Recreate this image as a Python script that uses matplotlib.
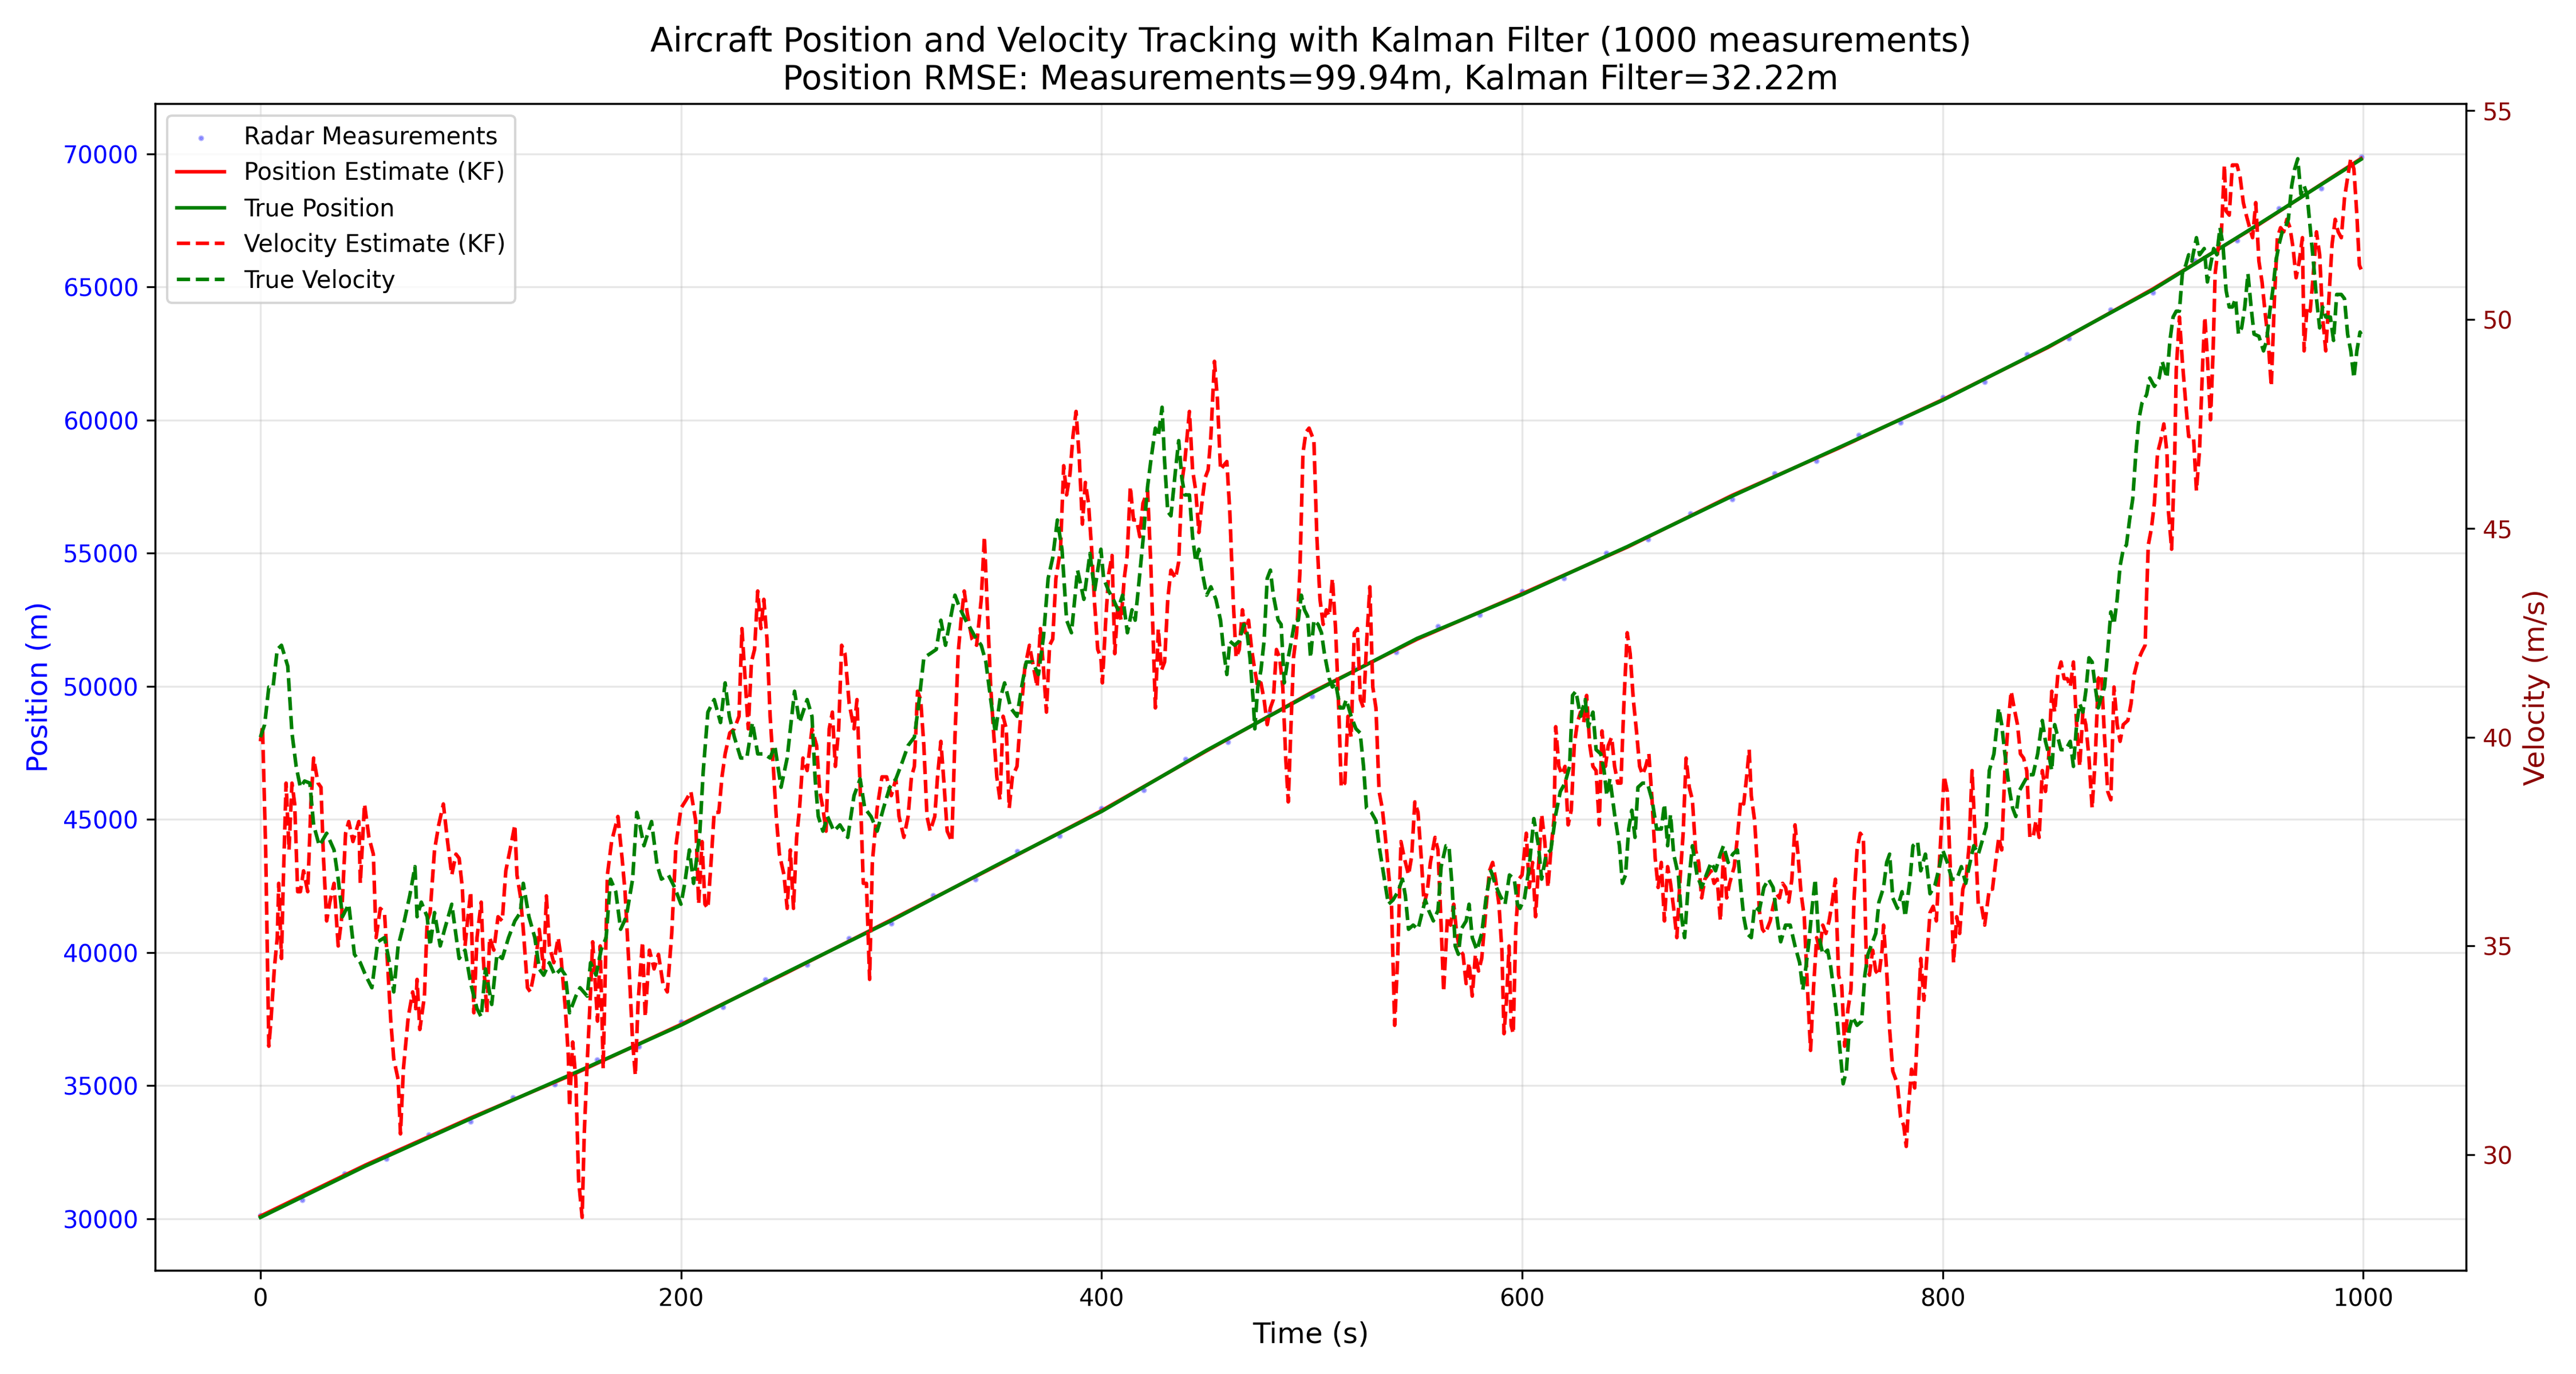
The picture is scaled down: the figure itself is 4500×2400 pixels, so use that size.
import matplotlib
matplotlib.use("Agg")
import matplotlib.pyplot as plt
import numpy as np

# ---------------- data ----------------
pos_time = [0, 50, 100, 150, 200, 250, 300, 350, 400, 450, 500, 550, 600, 650,
            700, 750, 800, 850, 900, 950, 999]
true_position = [30050, 31980, 33760, 35500, 37270, 39250, 41200, 43280, 45300,
                 47600, 49750, 51800, 53450, 55250, 57150, 58950, 60750, 62750,
                 64900, 67350, 69800]
kf_position = [30100, 32020, 33790, 35470, 37300, 39230, 41230, 43260, 45330,
               47580, 49780, 51770, 53480, 55230, 57180, 58930, 60770, 62730,
               64930, 67330, 69830]

meas_time = list(range(0, 1001, 20))
meas_time[-1] = 999
measurements = [30120, 30700, 31690, 32250, 33150, 33650, 34560, 35050, 35980, 36480,
                37390, 37950, 38980, 39540, 40530, 41090, 42150, 42760, 43800, 44380,
                45410, 46100, 47260, 47920, 49000, 49640, 50690, 51280, 52250, 52680,
                53570, 54060, 55000, 55520, 56500, 57040, 57990, 58480, 59430, 59920,
                60870, 61440, 62470, 63070, 64160, 64790, 66000, 66750, 67960, 68710,
                69900]

true_velocity_pts = [
    (0, 40.0), (2, 40.3), (4, 41.2), (6, 41.2), (8, 42.1), (10, 42.2), (13, 41.7),
    (15, 40.1), (17, 39.3), (19, 38.8), (21, 38.95), (23.5, 38.9), (25.3, 37.9),
    (28, 37.4), (31.5, 37.7), (35, 37.3), (37, 36.6), (39, 35.7), (42, 36.0),
    (44.7, 34.8), (47.5, 34.6), (50, 34.3), (53, 34.0), (55.8, 35.1), (59, 35.2),
    (61, 34.7), (63.4, 33.9), (65.5, 35.0), (68, 35.5), (71, 36.2), (73.5, 36.9),
    (74.5, 35.7), (76.5, 36.05), (79.3, 35.7), (80.7, 35.0), (82.8, 35.8), (85.5, 35.0),
    (87.6, 35.4), (91, 36.0), (94.5, 34.7), (97.3, 34.9), (100, 34.1), (103, 33.5),
    (105, 33.3), (107, 34.45), (110, 33.6), (112.5, 34.8), (115, 34.7), (118, 35.2),
    (121, 35.6), (123.6, 35.8), (125, 36.5), (127.7, 35.7), (130.5, 35.2), (132.6, 34.45),
    (134.7, 34.3), (137.4, 34.6), (140, 34.3), (143, 34.45), (145, 34.3), (147, 33.4),
    (150, 33.8), (152, 34.0), (155.4, 33.8), (157, 34.6), (159.6, 34.3), (162, 34.9),
    (164.4, 35.2), (166.5, 36.6), (169, 36.3), (171.3, 35.4), (174, 35.7), (177, 36.6),
    (179, 38.2), (180, 38.0), (182.4, 37.4), (186, 37.98), (188.6, 36.95), (190.7, 36.6),
    (194, 36.7), (197, 36.4), (200, 36.0), (201.8, 36.5), (204, 37.3), (206, 36.5),
    (209, 37.75), (210.6, 39.2), (212.8, 40.6), (215.8, 40.9), (218.8, 40.35), (221, 41.3),
    (223, 40.5), (225.4, 40.0), (228.4, 39.5), (231.3, 39.5), (234, 40.35), (236.5, 39.6),
    (239.4, 39.6), (242.4, 39.5), (244.6, 39.8), (247.6, 38.8), (250.5, 39.5), (254, 41.1),
    (256.4, 40.35), (260, 40.9), (262.3, 40.5), (263.8, 39.0), (265.3, 38.1), (267.5, 37.75),
    (269.7, 38.1), (272.7, 37.75), (275.6, 37.9), (279.3, 37.6), (282.3, 38.6), (285.2, 39.0),
    (287.4, 38.3), (290.4, 38.1), (293.3, 37.75), (296.3, 38.3), (299.3, 38.8), (302.2, 39.0),
    (305.2, 39.4), (308, 39.8), (311, 40.0), (313.3, 40.9), (315.5, 41.9), (318.5, 42.0),
    (321.4, 42.1), (323.6, 42.8), (325.8, 42.2), (328, 42.8), (330.3, 43.4), (332.5, 43.1),
    (335.4, 42.8), (337.7, 42.6), (339.9, 42.4), (342.8, 42.2), (345, 41.8), (347.3, 40.9),
    (349.5, 40.1), (351.7, 40.9), (353.9, 41.3), (356.8, 40.7), (359.8, 40.5), (362, 41.2),
    (364.2, 41.8), (367.2, 41.8), (370, 41.5), (372.4, 42.4), (374.6, 43.8), (376.8, 44.3),
    (379, 45.2), (381.2, 44.5), (383.4, 42.8), (385.7, 42.5), (388.6, 44.0), (391.6, 43.3),
    (394.5, 44.4), (396.7, 43.5), (399.7, 44.5), (401, 43.8), (403.4, 43.5), (405.6, 43.3),
    (407.8, 43.05), (410, 43.4), (412.3, 42.5), (414.5, 43.05), (416, 42.8), (417.4, 43.5),
    (419.7, 44.7), (421.9, 46.0), (423.4, 46.6), (425.6, 47.4), (427, 47.2), (428.8, 47.9),
    (430, 46.6), (431.5, 45.4), (433, 45.3), (435.2, 46.4), (436.7, 47.1), (438.2, 46.2),
    (439.6, 45.8), (441.8, 45.8), (443.3, 44.8), (444.8, 44.2), (446.3, 44.5), (447.7, 44.0),
    (450, 43.4), (452, 43.6), (454.4, 43.3), (456.6, 42.8), (458, 42.1), (459.6, 41.5),
    (461, 42.3), (463.3, 42.2), (465.5, 42.3), (467.7, 42.7), (469.2, 42.5), (470.6, 41.9),
    (472.1, 40.9), (472.9, 40.2), (474.3, 41.2), (475.8, 41.6), (477.3, 42.3), (478.8, 43.8),
    (480.3, 44.0), (481.7, 43.4), (484, 42.8), (485.4, 42.7), (486.9, 41.3), (488.4, 41.8),
    (489.9, 42.2), (492, 42.8), (493.6, 42.8), (495, 43.4), (496.5, 43.05), (498, 42.9),
    (499.4, 41.9), (501, 42.8), (503, 42.7), (504.6, 42.5), (506, 42.0), (508.3, 41.4),
    (509.8, 41.2), (511.3, 41.3), (513.5, 40.7), (515, 40.7), (516.4, 40.9), (518.7, 40.5),
    (521, 40.2), (523, 40.1), (524.6, 39.3), (526, 38.3), (528.3, 38.2), (530.5, 38.0),
    (532, 37.4), (534.2, 36.7), (536.4, 36.0), (538.6, 36.1), (541, 36.3), (543.1, 36.6),
    (544.5, 36.2), (546, 35.4), (548.2, 35.5), (550.5, 35.4), (552.7, 35.85), (554, 36.1),
    (555.6, 35.85), (557.8, 35.6), (560, 35.85), (561.5, 36.9), (563.8, 37.4), (565.2, 37.4),
    (566.7, 36.45), (568.2, 35.0), (569.7, 34.8), (571, 35.4), (573.4, 35.6), (574.8, 36.0),
    (576.3, 35.2), (578.5, 34.9), (580.8, 35.3), (583, 36.2), (585.2, 36.8), (587.4, 36.45),
    (589.6, 36.2), (591.9, 36.0), (594, 36.7), (596.3, 36.6), (597.8, 36.0), (599, 35.9),
    (601.2, 36.15), (603.4, 36.9), (605.6, 38.05), (607.8, 37.4), (609.3, 36.6), (611.5, 37.2),
    (613.7, 37.3), (616, 38.15), (618.2, 38.7), (620.4, 38.9), (622.6, 39.3), (624, 41.0),
    (625.6, 41.1), (627.8, 40.5), (630, 40.9), (631.5, 40.25), (633.7, 40.6), (635.2, 39.7),
    (637.4, 39.6), (639, 39.2), (640.3, 38.6), (641.8, 39.0), (644, 38.15), (646.3, 37.4),
    (647.7, 36.5), (649.2, 36.7), (650.7, 37.8), (652.2, 38.25), (653.7, 37.6), (655.1, 38.8),
    (657.3, 38.9), (659.6, 38.9), (661.8, 38.5), (664, 37.8), (666.2, 37.8), (667.7, 38.4),
    (669.2, 37.4), (670.6, 38.15), (672.1, 37.2), (674.3, 36.7), (675.8, 35.7), (677.3, 35.2),
    (678.8, 36.3), (681, 37.4), (683.2, 36.7), (685.4, 36.4), (687.6, 36.7), (689.9, 37.0),
    (692, 36.8), (694.3, 37.2), (695.8, 37.4), (698, 37.0), (700.2, 37.2), (702.4, 37.3),
    (704, 36.4), (705.4, 35.7), (706.9, 35.3), (709, 35.2), (710.6, 35.95), (712.8, 35.85),
    (715, 36.4), (717.2, 36.6), (719.4, 36.4), (721.7, 35.5), (723, 35.1), (725.3, 35.5),
    (727.5, 35.5), (729.8, 35.0), (732, 34.6), (733.5, 33.95), (735, 34.5), (736.4, 35.1),
    (738, 35.95), (739.4, 36.6), (740.9, 35.3), (743, 34.8), (745.3, 34.9), (746.8, 34.5),
    (748.2, 33.95), (749.7, 33.3), (751.2, 32.5), (752.7, 31.7), (754.2, 32.0), (755.6, 33.0),
    (757.1, 33.3), (759.3, 33.1), (761.5, 33.2), (763, 34.3), (764.5, 34.8), (766.7, 35.1),
    (768.2, 35.3), (769.7, 36.05), (771.9, 36.4), (773.4, 37.0), (774.8, 37.2), (776.3, 36.15),
    (778.5, 35.9), (780.7, 36.3), (782.2, 35.7), (784.5, 36.6), (785.9, 37.4), (788.1, 37.5),
    (789.6, 36.8), (791.8, 37.2), (794, 36.25), (796.3, 36.45), (798.5, 36.9), (800, 37.3),
    (802.2, 37.0), (804.4, 36.6), (806.7, 36.6), (808.9, 36.9), (811, 36.5), (812.6, 36.9),
    (814.8, 37.4), (817, 37.2), (819.3, 37.6), (820.7, 37.85), (822.2, 39.2), (824.4, 39.6),
    (826.7, 40.7), (828.1, 40.3), (829.6, 39.6), (831.9, 38.7), (833.3, 38.3), (834.8, 38.1),
    (836.3, 38.7), (838.5, 38.9), (840.7, 39.1), (843, 39.1), (845.2, 39.6), (847.4, 40.4),
    (848.9, 39.9), (850.4, 39.6), (851.9, 39.2), (853.3, 40.3), (854.8, 40.0), (856.3, 39.7),
    (858.5, 39.7), (860.7, 39.9), (862.2, 39.3), (863.7, 40.3), (865.2, 40.8), (866.7, 40.6),
    (868.1, 41.1), (869.6, 41.9), (871.1, 41.8), (872.6, 41.2), (874, 40.7), (875.5, 40.97),
    (877, 41.2), (878.5, 42.05), (880, 43.0), (881.5, 42.7), (883, 43.3), (884.4, 44.1),
    (885.9, 44.5), (887.4, 44.6), (888.9, 45.2), (890.4, 45.7), (891.9, 46.8), (893.3, 47.6),
    (894.8, 48.0), (897, 48.2), (898.5, 48.6), (900.7, 48.4), (903, 48.6), (904.4, 49.0),
    (906.7, 48.6), (908.1, 49.5), (909.6, 50.06), (911.1, 50.2), (912.6, 50.2), (914, 51.1),
    (915.6, 51.3), (917, 51.55), (918.5, 51.4), (920.7, 51.96), (922.2, 51.55), (924.4, 51.7),
    (925.9, 50.9), (927.4, 51.3), (928.9, 51.7), (930.4, 51.55), (931.9, 52.2), (933.3, 51.8),
    (934.8, 50.7), (936.3, 50.3), (937.8, 50.3), (939.3, 50.5), (940.7, 49.65), (942.2, 49.8),
    (943.7, 50.3), (945.2, 51.1), (946.7, 50.3), (948.1, 49.65), (950.4, 49.6), (952.6, 49.25),
    (954.1, 49.5), (955.6, 50.2), (957, 50.7), (958.5, 51.4), (960, 51.8), (961.5, 52.1),
    (963, 52.2), (964.4, 52.4), (966, 53.2), (967.4, 53.6), (968.9, 53.85), (970.4, 53.0),
    (971.9, 53.2), (973.3, 53.0), (974.8, 52.2), (976.3, 51.4), (977.8, 50.5), (979.3, 49.8),
    (980.7, 50.3), (982.2, 50.06), (984.4, 50.06), (985.9, 49.5), (987.4, 50.6), (989.6, 50.6),
    (991.1, 50.5), (992.6, 49.65), (994.1, 49.25), (995.6, 48.6), (997, 49.25), (998.5, 49.7),
    (999, 49.65),
]

kf_velocity_pts = [
    (0, 39.9), (1, 40.25), (2.5, 37.3), (4, 32.6), (5, 33.2), (6.6, 34.45), (8, 35.2),
    (8.7, 36.5), (10, 34.7), (10.8, 36.4), (12.2, 38.9), (13.6, 37.3), (15, 38.9),
    (16.3, 38.4), (17.7, 36.3), (19, 36.3), (20.5, 36.8), (22.5, 36.3), (24, 38.4),
    (25.3, 39.5), (27.4, 38.9), (28.8, 38.8), (30, 37.1), (31.5, 35.6), (33, 36.05),
    (35, 36.5), (37, 35.0), (38.5, 35.6), (40.5, 37.7), (42, 37.98), (44, 37.5),
    (46.8, 37.98), (47.5, 36.5), (49.5, 38.4), (51.6, 37.6), (53.7, 37.2), (55, 35.2),
    (57, 35.9), (59, 35.8), (60.6, 34.45), (62, 33.2), (63.4, 32.3), (65.5, 31.8),
    (66.6, 30.5), (68, 32.06), (70.3, 33.3), (72.4, 33.9), (73.8, 33.5), (74.5, 34.2),
    (75.8, 33.0), (78, 33.8), (79.3, 35.6), (80.7, 35.8), (82.8, 37.3), (84.8, 37.9),
    (87, 38.4), (89, 37.5), (91, 36.7), (93, 37.2), (94.5, 37.1), (96, 36.4), (97.3, 35.0),
    (98.7, 35.7), (100, 36.3), (101.5, 33.4), (103, 35.2), (105, 36.05), (106, 34.7),
    (107.7, 33.4), (109, 35.2), (111, 34.9), (113, 35.7), (115, 35.6), (116.7, 36.8),
    (118.7, 37.3), (121, 37.9), (122, 36.7), (123.6, 36.2), (125, 35.4), (127, 34.0),
    (128.4, 33.9), (130.5, 34.45), (132.6, 35.4), (134.7, 34.45), (136, 36.2), (137.4, 35.0),
    (139.5, 34.6), (141.6, 35.2), (143, 34.7), (145, 33.5), (146.4, 32.4), (147, 31.15),
    (148.5, 32.7), (150, 31.8), (151.3, 29.4), (153, 28.5), (154, 30.5), (155.4, 32.2),
    (157, 33.9), (158, 35.1), (159, 34.3), (160.3, 33.2), (161.6, 35.0), (163, 32.06),
    (165, 36.7), (167, 37.5), (170, 38.1), (172, 37.1), (173.4, 36.3), (175.5, 34.3),
    (177, 32.7), (178.3, 31.9), (179.6, 33.65), (181.7, 35.1), (183, 33.3), (185, 34.9),
    (187.2, 34.45), (189.3, 34.8), (191.4, 34.1), (193.5, 33.9), (195.6, 35.3), (197.6, 37.4),
    (200, 38.3), (202.5, 38.5), (204.7, 38.7), (207, 38.0), (208.4, 36.0), (210, 37.5),
    (211.4, 36.0), (212.8, 35.9), (214.3, 37.0), (215.8, 38.2), (218, 38.2), (219.5, 39.05),
    (221, 39.6), (223.2, 40.1), (225.4, 40.2), (227.6, 40.5), (229, 42.6), (230.5, 41.4),
    (232, 40.2), (233.5, 41.8), (235, 42.1), (236.5, 43.5), (238, 42.6), (239.4, 43.3),
    (240.9, 42.35), (242.4, 40.5), (243.9, 39.3), (245.3, 38.1), (246.8, 37.2), (249, 36.7),
    (250.5, 35.9), (252, 37.3), (253.5, 35.9), (255, 37.6), (256.4, 38.3), (258, 39.5),
    (260, 39.2), (262.3, 40.2), (264.5, 39.8), (266, 38.7), (267.5, 38.3), (269, 37.75),
    (270.5, 40.2), (272, 40.6), (273.4, 39.3), (275, 40.2), (276.4, 42.2), (278, 42.0),
    (280, 40.8), (282.3, 40.2), (283.7, 40.9), (285.2, 38.8), (286.7, 36.5), (288.2, 36.5),
    (289.7, 34.2), (291, 37.0), (293.3, 38.3), (295.6, 39.05), (297.8, 39.05), (300, 38.6),
    (302.2, 39.0), (303.7, 38.1), (306, 37.6), (308, 38.1), (309.6, 39.05), (311, 39.3),
    (312.5, 41.1), (314, 40.9), (315.5, 39.8), (317, 38.1), (318.5, 37.75), (320.7, 38.1),
    (322, 39.05), (323.6, 39.9), (325, 38.95), (326.6, 37.75), (328.8, 37.5), (330.3, 40.0),
    (331.8, 42.0), (333.2, 42.8), (334.7, 43.5), (336.2, 42.95), (338.4, 42.35), (340.6, 42.2),
    (342.8, 43.3), (344.3, 44.8), (345.8, 42.95), (347.3, 41.2), (348.7, 40.1), (350.2, 39.05),
    (351.7, 38.5), (353.2, 40.5), (354.7, 40.2), (356.1, 38.3), (357.6, 39.05), (359.8, 39.3),
    (361.3, 40.35), (363.5, 41.65), (365.7, 42.2), (367.2, 41.8), (369.4, 41.2), (370.9, 42.6),
    (372.4, 41.65), (373.8, 40.6), (375.3, 42.2), (376.8, 42.35), (378.3, 43.8), (380.5, 44.5),
    (382, 46.5), (383.4, 45.8), (385, 46.3), (386.4, 47.2), (387.9, 47.8), (389.4, 46.7),
    (390.9, 45.1), (392.3, 46.1), (393.8, 45.6), (395.3, 44.5), (396.7, 43.2), (398.2, 42.1),
    (399.7, 41.9), (400.4, 41.3), (402, 42.8), (403.4, 43.9), (405, 44.35), (406.3, 42.0),
    (407.8, 43.2), (409.3, 42.8), (410.8, 43.8), (412.2, 44.35), (413.7, 46.0), (415.2, 45.2),
    (416.7, 45.2), (418.2, 44.8), (419.7, 45.6), (421.9, 45.9), (423.4, 44.2), (424.4, 42.6),
    (425.6, 40.7), (427, 42.6), (428.5, 41.6), (430, 41.8), (431.5, 43.3), (433, 44.0),
    (435.2, 43.8), (436.7, 44.2), (438.2, 46.1), (439.6, 46.6), (441.8, 47.8), (443.3, 46.4),
    (444.8, 45.9), (446.3, 44.9), (447.7, 45.6), (449.2, 46.2), (450.7, 46.4), (452, 47.2),
    (453.7, 49.0), (455.1, 48.1), (456.6, 46.4), (458, 46.5), (459.6, 46.6), (461, 45.4),
    (462.6, 43.3), (464, 41.9), (465.5, 42.1), (467, 43.05), (468.4, 42.5), (469.9, 42.8),
    (471.4, 42.1), (472.9, 41.6), (474.3, 41.2), (475.8, 41.3), (477.3, 40.9), (478.8, 40.3),
    (480.3, 40.7), (481.7, 40.9), (483.2, 42.1), (484.7, 41.9), (486.2, 41.2), (487.6, 39.5),
    (488.8, 38.45), (489.9, 40.0), (491.3, 41.9), (492.8, 42.5), (494.3, 43.9), (495.8, 46.8),
    (497.2, 47.3), (498.7, 47.4), (501, 47.1), (502.4, 44.8), (503.9, 43.3), (505.4, 42.7),
    (506.9, 43.05), (508.3, 42.9), (509.8, 43.8), (511.3, 42.6), (512.8, 40.7), (514, 38.8),
    (515.7, 38.9), (517.2, 40.5), (518.7, 40.0), (520.2, 42.5), (521.7, 42.6), (523.1, 40.9),
    (524.6, 40.7), (526.1, 42.3), (527.6, 43.6), (529, 41.2), (530.5, 40.7), (532, 38.7),
    (533.5, 38.3), (535, 37.6), (536.4, 36.8), (537.9, 36.0), (539.4, 33.1), (540.9, 34.8),
    (542.4, 37.5), (543.8, 37.15), (546, 36.7), (547.5, 37.15), (549, 38.45), (550.5, 38.2),
    (552, 37.15), (553.4, 36.0), (554.9, 36.3), (556.4, 37.0), (558.6, 37.6), (560, 37.3),
    (561.5, 35.5), (562.7, 33.9), (564.5, 35.7), (566, 35.5), (567.5, 36.0), (568.9, 35.3),
    (570.4, 34.9), (571.9, 34.8), (573.4, 34.1), (574.8, 34.6), (576.3, 33.8), (577.8, 34.8),
    (579.3, 34.4), (580.8, 34.7), (583, 36.0), (584.5, 36.8), (586, 37.0), (587.4, 36.6),
    (589, 36.0), (590.4, 34.9), (591.4, 32.9), (592.6, 33.7), (593.8, 35.0), (594.8, 33.1),
    (595.8, 32.9), (597, 35.4), (598.5, 36.6), (600, 36.7), (602, 37.7), (603.4, 36.4),
    (605, 37.0), (606.4, 35.7), (607.8, 36.9), (609.3, 38.15), (610.8, 37.5), (612.3, 36.4),
    (613.7, 37.3), (615.2, 38.05), (616, 40.25), (617.5, 39.3), (619, 39.1), (620.4, 39.3),
    (621.9, 37.9), (623.4, 38.25), (624.8, 39.8), (626.3, 40.35), (627.8, 40.6), (629.3, 40.35),
    (630.7, 41.0), (632.2, 39.8), (633.7, 39.3), (635.2, 39.2), (636.7, 37.9), (638, 40.15),
    (639.6, 39.3), (641, 39.8), (642.6, 40.0), (644, 39.3), (645.5, 38.9), (647, 38.9),
    (648.5, 40.9), (650, 42.5), (651.4, 42.0), (652.9, 40.9), (654.4, 40.15), (655.9, 39.3),
    (657.3, 39.1), (658.8, 39.3), (660.3, 39.6), (661.8, 38.5), (663.3, 37.1), (664.7, 36.4),
    (666.2, 37.0), (667.7, 35.6), (669.2, 36.9), (670.6, 36.5), (672.1, 35.9), (673.6, 35.2),
    (675, 36.5), (676.6, 37.7), (678, 39.5), (679.5, 38.8), (681, 38.5), (682.5, 37.3),
    (684, 37.0), (685.4, 36.15), (686.9, 36.6), (688.4, 36.7), (689.9, 36.8), (691.3, 36.5),
    (692.8, 36.6), (694.3, 35.6), (695.8, 37.2), (697.3, 36.15), (698.7, 36.5), (700.9, 36.9),
    (702.4, 37.6), (704, 38.5), (705.4, 38.4), (706.9, 39.1), (708, 39.7), (709, 38.6),
    (710.6, 38.0), (712, 36.8), (712.8, 35.85), (714.3, 35.4), (715.7, 35.3), (718, 35.6),
    (719.4, 35.95), (721, 36.25), (722.4, 36.15), (723.9, 36.5), (725.3, 36.4), (726.8, 36.05),
    (728.3, 36.6), (729.8, 37.9), (731.2, 37.2), (732.7, 36.25), (734.2, 35.7), (735.7, 34.0),
    (737.2, 32.5), (738.6, 34.0), (740.1, 35.2), (741.6, 34.9), (743, 35.5), (744.5, 35.3),
    (746, 35.6), (747.5, 36.05), (749, 36.6), (750.5, 34.3), (752, 34.05), (753.4, 32.6),
    (755, 33.5), (756.4, 33.95), (757.9, 36.15), (759.3, 37.3), (760.8, 37.7), (762.3, 37.6),
    (763.8, 34.5), (765.2, 34.3), (766.7, 34.9), (768.2, 34.4), (769.7, 34.3), (771.2, 34.9),
    (771.9, 35.5), (773.4, 34.4), (774.8, 33.0), (776.3, 32.0), (778.5, 31.7), (780, 30.9),
    (781.5, 30.7), (782.7, 30.2), (783.7, 31.1), (785.2, 32.05), (786.7, 31.6), (788.1, 33.0),
    (789.6, 34.7), (791.1, 33.7), (792.6, 34.8), (794, 35.8), (795.5, 35.95), (797, 35.6),
    (798.5, 37.0), (800.7, 39.07), (802.2, 38.7), (803.7, 36.8), (805.2, 34.6), (806.7, 35.7),
    (808.1, 35.3), (809.6, 36.36), (811.1, 36.6), (812.6, 37.4), (814, 39.2), (815.5, 37.6),
    (817, 35.95), (818.5, 35.95), (820, 35.5), (822.2, 36.36), (823.7, 36.36), (825.2, 37.0),
    (826.7, 37.6), (828.1, 37.3), (829.6, 39.2), (831.1, 40.3), (832.6, 41.1), (834, 40.7),
    (835.6, 40.3), (837, 39.6), (838.5, 39.5), (840, 39.2), (841.5, 37.6), (843, 37.6),
    (844.4, 38.0), (845.9, 37.6), (847.4, 39.2), (848.9, 38.7), (850.4, 39.5), (851.9, 41.1),
    (853.3, 40.6), (854.8, 41.5), (856.3, 41.8), (857.8, 41.4), (859.3, 41.4), (860.7, 41.2),
    (862.2, 41.8), (863.7, 40.3), (865.2, 39.3), (866.7, 40.6), (868.1, 40.3), (869.6, 39.5),
    (871.1, 38.3), (872.6, 39.5), (874, 41.4), (875.5, 41.5), (877, 40.0), (878.5, 38.7),
    (880, 38.5), (881.5, 41.2), (883, 40.3), (884.4, 39.9), (885.9, 40.3), (888.1, 40.4),
    (889.6, 40.8), (891.1, 41.5), (892.6, 41.8), (894.8, 42.05), (896.3, 42.2), (897, 43.4),
    (897.8, 44.6), (899.3, 45.0), (900.7, 45.6), (902.2, 46.8), (903.7, 47.1), (905.2, 47.5),
    (906.7, 46.8), (907.4, 45.4), (908.9, 44.5), (910.4, 46.8), (911.1, 48.8), (912.6, 50.06),
    (914, 49.0), (915.6, 48.0), (917, 47.2), (919.3, 47.2), (920.7, 45.9), (922.2, 46.9),
    (923.7, 49.0), (924.7, 50.06), (925.9, 49.1), (927.4, 47.6), (928.6, 49.2), (929.6, 51.1),
    (931, 51.7), (932.6, 52.1), (934, 53.7), (934.8, 52.6), (936.3, 52.5), (937.8, 53.7),
    (940, 53.7), (941.5, 53.4), (943, 52.8), (944.4, 52.5), (946, 52.2), (947.4, 51.96),
    (948.9, 52.8), (950.4, 51.4), (951.9, 50.9), (953.3, 50.2), (954.8, 49.5), (956.3, 48.4),
    (957.8, 50.5), (959.2, 51.96), (960.7, 52.2), (962.2, 52.1), (963.7, 52.4), (965.2, 52.2),
    (966.7, 51.7), (968.1, 51.0), (969.6, 51.4), (971.1, 51.96), (971.9, 49.25), (973.3, 50.3),
    (974.8, 50.2), (976.3, 51.1), (977.8, 52.1), (979.3, 51.55), (980.7, 50.06), (982.2, 49.25),
    (983.7, 50.5), (985.2, 51.8), (986.7, 52.4), (988.1, 52.1), (989.6, 51.96), (991.1, 52.9),
    (992.6, 53.4), (994.1, 53.86), (995.6, 53.6), (997, 52.5), (998.2, 51.3), (999, 51.2),
]

title_text = ("Aircraft Position and Velocity Tracking with Kalman Filter (1000 measurements)\n"
              "Position RMSE: Measurements=99.94m, Kalman Filter=32.22m")

# ---------------- plotting ----------------
tv_t = [p[0] for p in true_velocity_pts]
tv_v = [p[1] for p in true_velocity_pts]
kv_t = [p[0] for p in kf_velocity_pts]
kv_v = [p[1] for p in kf_velocity_pts]

fig, ax1 = plt.subplots(figsize=(15, 8), dpi=300)

ax1.scatter(meas_time, measurements, s=2, color='blue', alpha=0.3,
            label='Radar Measurements', zorder=2)
ax1.plot(pos_time, kf_position, color='red', linewidth=1.5,
         label='Position Estimate (KF)', zorder=3)
ax1.plot(pos_time, true_position, color='green', linewidth=1.5,
         label='True Position', zorder=4)
ax1.set_xlabel('Time (s)', fontsize=12)
ax1.set_ylabel('Position (m)', color='blue', fontsize=12)
ax1.tick_params(axis='y', labelcolor='blue')
ax1.grid(True, alpha=0.3)

ax2 = ax1.twinx()
ax2.plot(kv_t, kv_v, color='red', linestyle='--', linewidth=1.5,
         label='Velocity Estimate (KF)')
ax2.plot(tv_t, tv_v, color='green', linestyle='--', linewidth=1.5,
         label='True Velocity')
ax2.set_ylabel('Velocity (m/s)', color='darkred', fontsize=12)
ax2.tick_params(axis='y', labelcolor='darkred')
ax2.set_ylim(27.23, 55.17)

h1, l1 = ax1.get_legend_handles_labels()
h2, l2 = ax2.get_legend_handles_labels()
ax1.legend(h1 + h2, l1 + l2, loc='upper left')

ax1.set_title(title_text, fontsize=14)
fig.tight_layout()
fig.savefig('out.png', dpi=300)
